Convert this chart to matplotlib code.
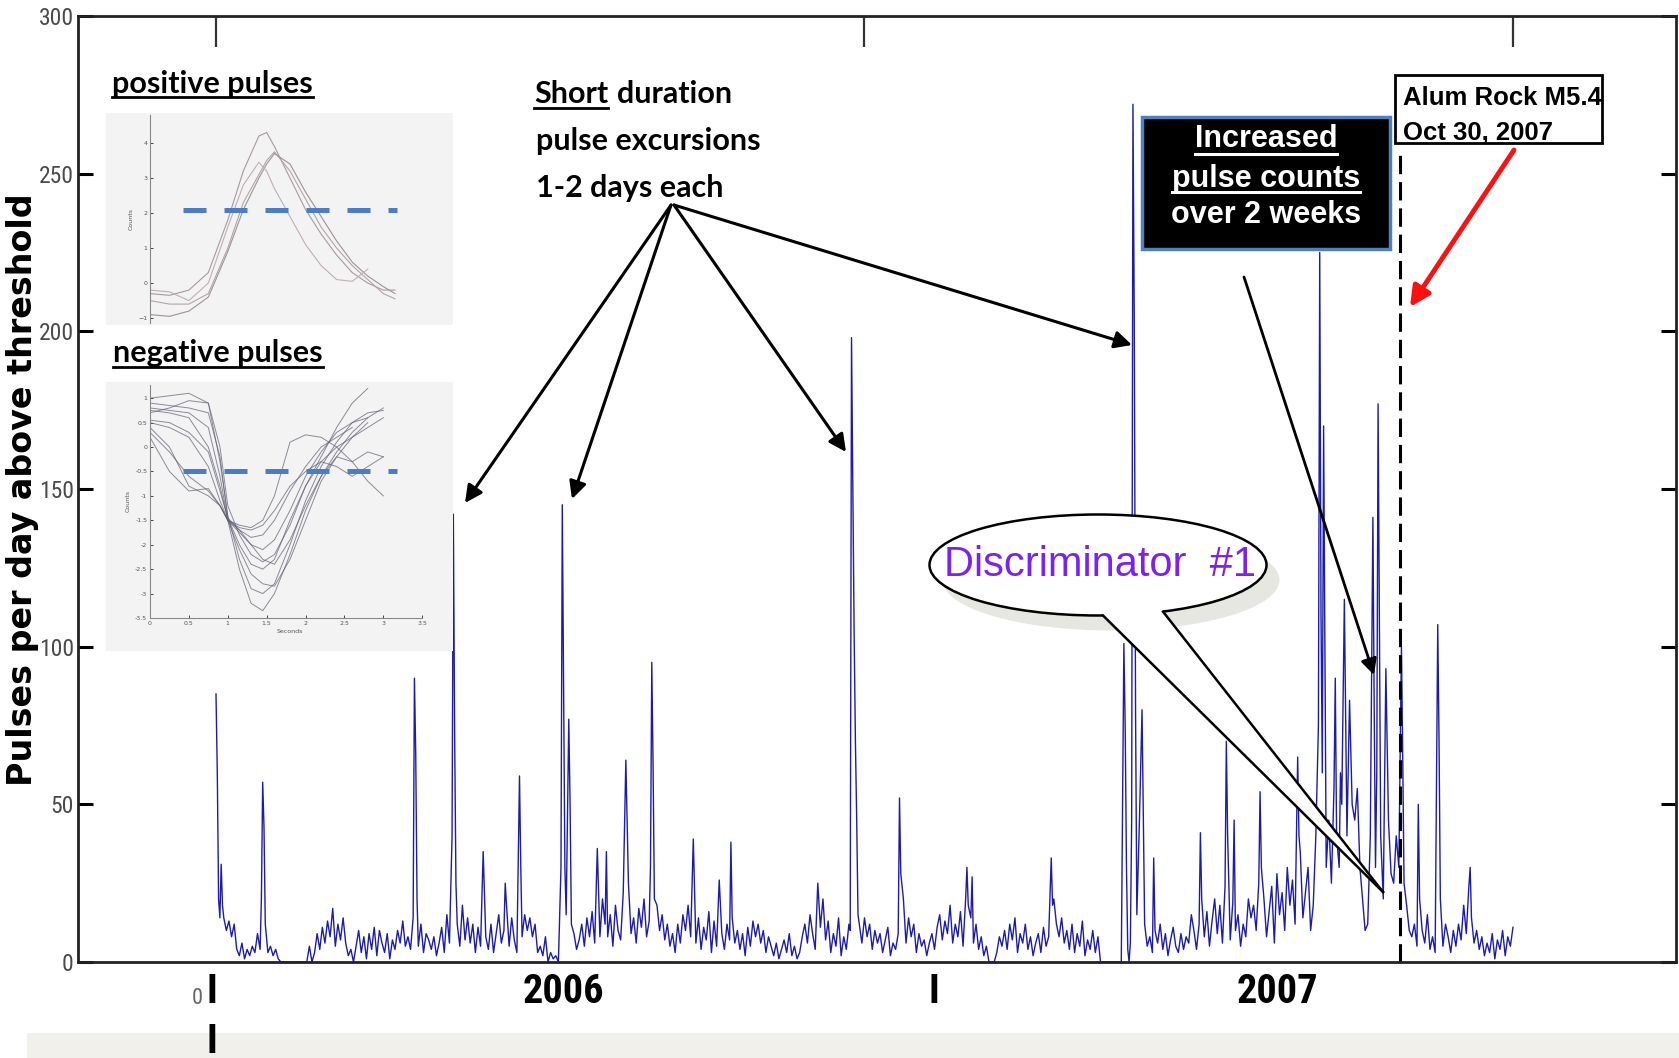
import numpy as np
import matplotlib
matplotlib.use('Agg')
import matplotlib.pyplot as plt
from matplotlib import font_manager as fm
from matplotlib.patches import Rectangle, Ellipse, Polygon, FancyArrowPatch
from matplotlib.lines import Line2D

W, H = 1679, 1058
nan = np.nan

# pulses per day, one reading every 2 days (day 0 .. day 1000)
base = [
    10, 15, 12, 14, 10, 13, 8, 12, 4, 2, 6, 1, 4, 2, 5, 3, 9, 4, 50, 12, 3, 5, 2, 4, 1,
    0, 0, 0, 0, 0, 0, 0, 0, 0, 0, 0, 5, 0, 3, 9, 4, 11, 6, 13, 8, 17, 5, 12, 7, 14,
    6, 2, 4, 0, 5, 10, 3, 8, 1, 9, 4, 11, 2, 10, 6, 3, 9, 1, 7, 4, 10, 6, 13, 5, 8,
    4, 14, 10, 5, 12, 3, 9, 7, 4, 8, 2, 6, 11, 3, 15, 6, 9, 4, 12, 5, 18, 7, 14, 6, 12,
    3, 11, 5, 2, 8, 4, 12, 3, 9, 15, 6, 10, 18, 5, 14, 7, 3, 12, 8, 15, 10, 14, 8, 12, 3,
    5, 2, 8, 0, 3, 1, 2, 0, 4, 30, 4, 28, 6, 9, 4, 7, 12, 5, 14, 8, 16, 6, 10, 8, 20,
    12, 8, 15, 5, 18, 10, 7, 22, 12, 25, 9, 14, 6, 17, 11, 20, 8, 13, 26, 40, 18, 10, 15, 7, 12,
    5, 9, 3, 12, 6, 15, 10, 18, 8, 22, 6, 14, 4, 11, 7, 16, 3, 13, 5, 20, 9, 4, 12, 7, 14,
    6, 10, 4, 9, 2, 11, 5, 13, 8, 12, 6, 10, 3, 8, 5, 2, 6, 1, 4, 7, 3, 9, 2, 5, 1,
    3, 8, 12, 6, 15, 9, 4, 18, 11, 20, 7, 13, 3, 9, 5, 14, 2, 8, 4, 12, 3, 15, 6, 12, 6,
    14, 8, 12, 4, 10, 6, 9, 3, 7, 11, 2, 6, 4, 9, 3, 20, 6, 14, 8, 12, 3, 9, 5, 7, 2,
    6, 9, 4, 11, 15, 7, 13, 9, 18, 6, 12, 8, 16, 5, 20, 10, 14, 6, 12, 4, 8, 2, 5, 0, 0,
    0, 3, 8, 5, 10, 4, 12, 7, 14, 3, 9, 6, 12, 4, 8, 2, 6, 9, 3, 11, 5, 8, 15, 20, 12,
    8, 14, 6, 10, 4, 12, 3, 9, 5, 13, 2, 7, 4, 10, 3, 8, 0, 0, 0, 0, 0, 0, 0, 0, 0,
    40, 30, 8, 0, 3, 15, 45, 80, 12, 5, 8, 3, 10, 6, 12, 4, 9, 2, 7, 11, 5, 3, 9, 4, 8,
    6, 15, 10, 4, 12, 22, 8, 16, 5, 13, 20, 9, 18, 6, 24, 12, 7, 19, 10, 15, 5, 12, 8, 20, 14,
    18, 10, 25, 12, 20, 8, 16, 24, 6, 28, 15, 22, 10, 30, 18, 26, 12, 8, 35, 14, 22, 30, 10, 18, 40,
    75, 110, 170, 30, 45, 25, 55, 40, 30, 50, 115, 40, 83, 50, 45, 55, 30, 20, 10, 12, 40, 141, 30, 177, 40,
    20, 93, 45, 28, 25, 40, 30, 100, 25, 18, 10, 8, 12, 5, 20, 10, 6, 15, 4, 8, 3, 107, 20, 5, 12,
    8, 3, 10, 5, 12, 7, 18, 9, 24, 14, 6, 10, 4, 8, 2, 6, 3, 9, 1, 7, 4, 10, 2, 8, 5,
    11,
]

# short excursions read day by day (day: pulses)
spikes = {
    0: 85, 1: 60, 2: 20, 3: 14, 4: 31, 5: 18,
    35: 20, 36: 57, 37: 43,
    153: 90, 154: 66, 155: 20,
    182: 40, 183: 142, 184: 72, 185: 25,
    206: 35, 223: 25, 234: 59, 235: 30,
    266: 30, 267: 145, 268: 86, 269: 30, 270: 15, 271: 45, 272: 77, 273: 50, 274: 12,
    294: 36, 301: 35, 316: 64, 317: 45, 335: 30, 336: 95, 337: 62, 338: 20,
    368: 39, 369: 22, 388: 26, 397: 38, 464: 25,
    489: 10, 490: 198, 491: 150, 492: 105, 493: 70, 494: 45, 495: 15,
    527: 52, 528: 28, 579: 30, 580: 18, 583: 27, 644: 33, 645: 18,
    700: 101, 701: 75, 702: 30, 703: 4, 704: 0, 705: 6, 706: 45, 707: 272, 708: 204, 709: 80, 710: 15,
    723: 33, 759: 41, 760: 20, 779: 70, 780: 40, 785: 45, 805: 54, 806: 30, 834: 65, 835: 40,
    851: 225, 853: 60, 863: 90, 867: 60, 893: 80, 895: 60, 897: 110,
    915: 65, 927: 50, 943: 70, 967: 30,
}

quake_day = 913
top_ticks = [0, 500, 1000]
y_ticks = [0, 50, 100, 150, 200, 250, 300]

# inset waveforms (seconds, counts)
pos_t = [0, 0.25, 0.5, 0.75, 1.0, 1.2, 1.4, 1.5, 1.6, 1.8, 2.0, 2.2, 2.4, 2.6, 2.8, 3.0, 3.15]
pos_curves = [
    [-0.3, -0.35, -0.2, 0.3, 1.8, 3.2, 4.2, 4.3, 3.9, 3.0, 2.1, 1.4, 0.8, 0.3, 0.0, -0.2, -0.2],
    [-0.5, -0.6, -0.6, -0.3, 1.0, 2.3, 3.1, 3.5, 3.75, 3.2, 2.4, 1.6, 1.0, 0.5, 0.1, -0.3, -0.45],
    [-0.9, -0.95, -0.8, -0.4, 0.9, 2.1, 3.0, 3.4, 3.7, 3.4, 2.6, 1.9, 1.2, 0.6, 0.2, -0.1, -0.3],
    [-0.2, -0.25, -0.5, 0.0, 1.6, 2.8, 3.45, 3.2, 2.7, 1.9, 1.1, 0.5, 0.1, 0.05, 0.4, nan, nan],
]
neg_t = [0, 0.25, 0.5, 0.75, 0.9, 1.0, 1.15, 1.3, 1.45, 1.6, 1.8, 2.0, 2.2, 2.4, 2.6, 2.8, 3.0]
neg_curves = [
    [0.8, 0.75, 0.7, 0.4, -0.6, -1.5, -2.5, -3.2, -3.35, -3.0, -2.2, -1.3, -0.6, -0.1, 0.3, 0.6, 0.8],
    [1.0, 1.05, 1.1, 0.9, -0.3, -1.4, -2.3, -2.9, -3.0, -2.8, -2.0, -1.1, -0.4, 0.1, 0.5, 0.7, 0.75],
    [0.5, 0.4, 0.2, -0.4, -1.1, -1.5, -2.1, -2.6, -2.8, -2.85, -2.3, -1.5, -0.7, -0.2, 0.2, 0.5, nan],
    [0.7, 0.8, 0.95, 0.9, 0.0, -1.2, -1.8, -2.2, -2.35, -2.2, -1.6, -0.8, -0.2, 0.4, 0.9, 1.2, nan],
    [0.3, -0.1, -0.6, -0.9, -1.2, -1.5, -1.75, -2.0, -2.1, -1.9, -1.3, -0.6, -0.1, 0.3, 0.5, 0.6, nan],
    [0.55, 0.5, 0.3, -0.1, -0.9, -1.45, -1.7, -1.85, -1.8, -1.5, -0.9, -0.4, 0.0, 0.2, 0.4, nan, nan],
    [0.4, 0.0, -0.8, -1.0, -1.2, -1.5, -1.6, -1.65, -1.5, -1.0, 0.1, 0.25, 0.2, 0.0, -0.3, -0.7, -1.0],
    [0.75, 0.7, 0.6, 0.0, -0.8, -1.5, -1.65, -1.7, -1.6, -1.3, -0.8, -0.5, -0.3, -0.4, -0.6, -0.4, -0.2],
    [0.2, -0.5, -0.9, -0.85, -1.2, -1.5, -1.7, -2.0, -2.3, -2.4, -1.9, -1.2, -0.6, -0.2, -0.3, -0.1, -0.2],
    [0.9, 0.85, 0.8, 0.7, -0.2, -1.45, -2.0, -2.4, -2.5, -2.3, -1.5, -0.8, -0.3, 0.0, 0.2, 0.4, 0.6],
]
pos_level = 2.1
neg_level = -0.5
thr_t = [0.42, 3.18]

series = dict(zip(range(0, 1001, 2), base))
series.update(spikes)
days = sorted(series)
counts = [series[d] for d in days]

CALIBRI = ['Lato', 'DejaVu Sans']
ARIAL = ['Liberation Sans', 'DejaVu Sans']


def narrow_font(bold, size):
    # pick an installed narrow/condensed face, the tick labels are squeezed in the original
    pref = ['liberation sans narrow', 'dejavu sans condensed', 'noto sans condensed',
            'roboto condensed', 'open sans condensed', 'noto sans']
    found = []
    for f in fm.fontManager.ttflist:
        n = f.name.lower()
        st = str(f.stretch).lower()
        if not ('narrow' in n or 'condensed' in n or 'condensed' in st or 'narrow' in st):
            continue
        if 'extra' in st or 'ultra' in st or f.style != 'normal':
            continue
        w = f.weight if isinstance(f.weight, int) else fm.weight_dict.get(f.weight, 400)
        if (w >= 600) != bold:
            continue
        rank = next((i for i, p in enumerate(pref) if n.startswith(p)), len(pref))
        found.append((rank, f.fname))
    if found:
        found.sort()
        return fm.FontProperties(fname=found[0][1], size=size)
    return fm.FontProperties(family='Liberation Sans', weight='bold' if bold else 'normal',
                             size=size * 0.85)


tick_fp = narrow_font(False, 17)
small0_fp = narrow_font(False, 16)
year_fp = narrow_font(True, 29)

fig = plt.figure(figsize=(W / 100, H / 100), dpi=100)


def fx(x):
    return x / W


def fy(y):
    return 1 - y / H


# main trace
ax = fig.add_axes([fx(78), fy(962), (1676 - 78) / W, (962 - 16) / H])
ax.plot(days, counts, color='#1c1caa', lw=1.0)
ax.vlines(quake_day, 0, 258, colors='k', linestyles=(0, (6, 2.6)), lw=2.2)
ax.set_xlim(-106.4, 1125.7)
ax.set_ylim(0, 300)
ax.set_xticks(top_ticks)
ax.tick_params(axis='x', bottom=False, labelbottom=False, top=True,
               direction='in', length=22, width=1.6, color='#333333')
ax.set_yticks(y_ticks)
ax.tick_params(axis='y', left=True, right=True, direction='in', length=11,
               width=2.2, labelcolor='#4a4a4a', pad=3)
for lab in ax.get_yticklabels():
    lab.set_fontproperties(tick_fp)
for sp in ax.spines.values():
    sp.set_linewidth(2)
    sp.set_color('#222222')

# inset backgrounds
for y0, y1 in [(113, 325), (382, 651)]:
    bg = fig.add_axes([fx(106), fy(y1), 347 / W, (y1 - y0) / H], zorder=2)
    bg.set_facecolor('#f3f3f3')
    bg.set_xticks([])
    bg.set_yticks([])
    for sp in bg.spines.values():
        sp.set_visible(False)

pin = fig.add_axes([fx(150), fy(323), 280 / W, 208 / H], zorder=3)
pin.patch.set_alpha(0)
for c, col in zip(pos_curves, ['#a89a9c', '#b5a4a8', '#9d9396', '#c0aeb2']):
    pin.plot(pos_t, c, color=col, lw=0.8)
pin.plot(thr_t, [pos_level, pos_level], color='#4a7dc6', lw=3.6, dashes=(4.6, 3.6))
pin.set_xlim(0, 3.6)
pin.set_ylim(-1.14, 4.8)
pin.set_xticks([])
pin.set_yticks([-1, 0, 1, 2, 3, 4])
pin.tick_params(labelsize=4.5, labelcolor='#555555', length=2, direction='in', width=0.5, pad=2)
for s in ['top', 'right', 'bottom']:
    pin.spines[s].set_visible(False)
pin.spines['left'].set_color('#888888')
pin.spines['left'].set_linewidth(0.8)
pin.set_ylabel('Counts', fontsize=4.5, color='#555555', labelpad=3)

nin = fig.add_axes([fx(150), fy(618), 280 / W, 233 / H], zorder=3)
nin.patch.set_alpha(0)
for c in neg_curves:
    nin.plot(neg_t, c, color='#5e5e72', lw=0.7, alpha=0.7)
nin.plot(thr_t, [neg_level, neg_level], color='#4a7dc6', lw=3.6, dashes=(4.6, 3.6))
nin.set_xlim(0, 3.6)
nin.set_ylim(-3.5, 1.27)
nin.set_xticks([0, 0.5, 1, 1.5, 2, 2.5, 3, 3.5])
nin.set_xticklabels(['0', '0.5', '1', '1.5', '2', '2.5', '3', '3.5'])
nin.set_yticks([-3.5, -3, -2.5, -2, -1.5, -1, -0.5, 0, 0.5, 1])
nin.set_yticklabels(['-3.5', '-3', '-2.5', '-2', '-1.5', '-1', '-0.5', '0', '0.5', '1'])
nin.tick_params(labelsize=4.5, labelcolor='#555555', length=2, direction='in', width=0.5, pad=2)
for s in ['top', 'right']:
    nin.spines[s].set_visible(False)
for s in ['left', 'bottom']:
    nin.spines[s].set_color('#888888')
    nin.spines[s].set_linewidth(0.8)
nin.spines['bottom'].set_bounds(0, 3.5)
nin.set_ylabel('Counts', fontsize=4.5, color='#555555', labelpad=3)
nin.set_xlabel('Seconds', fontsize=4.5, color='#555555', labelpad=2)

rend = fig.canvas.get_renderer()


def under(t, off, color='k', lw=2.0):
    bb = t.get_window_extent(rend)
    y = t.get_position()[1] - off / H
    fig.add_artist(Line2D([bb.x0 / W, bb.x1 / W], [y, y], transform=fig.transFigure,
                          color=color, lw=lw, zorder=8))
    return bb


def txt(x, y, s, **kw):
    kw.setdefault('va', 'baseline')
    kw.setdefault('zorder', 7)
    return fig.text(fx(x), fy(y), s, **kw)


# inset titles
t = txt(112, 93, 'positive pulses', family=CALIBRI, fontweight='bold', fontsize=22)
under(t, 4)
t = txt(113, 362, 'negative pulses', family=CALIBRI, fontweight='bold', fontsize=22)
under(t, 5)

# y label
fig.text(fx(23), fy(490), 'Pulses per day above threshold', rotation=90, fontsize=24,
         fontweight='bold', family='DejaVu Sans', ha='center', va='center')

# short duration note
t = txt(534, 103, 'Short', family=CALIBRI, fontweight='bold', fontsize=22)
bb = under(t, 5)
txt(bb.x1 + 9, 103, 'duration', family=CALIBRI, fontweight='bold', fontsize=22)
txt(536, 150, 'pulse excursions', family=CALIBRI, fontweight='bold', fontsize=22)
txt(536, 197, '1-2 days each', family=CALIBRI, fontweight='bold', fontsize=22)


def arrow(p0, p1, color='k', lw=2.2, ms=26):
    fig.add_artist(FancyArrowPatch((fx(p0[0]), fy(p0[1])), (fx(p1[0]), fy(p1[1])),
                                   transform=fig.transFigure, arrowstyle='-|>',
                                   mutation_scale=ms, color=color, lw=lw,
                                   shrinkA=0, shrinkB=0, zorder=6))


arrow((671, 205), (465, 503))
arrow((671, 205), (572, 499))
arrow((674, 205), (846, 452))
arrow((674, 205), (1132, 345))

# increased pulse counts box
fig.add_artist(Rectangle((fx(1142), fy(249)), 248 / W, 132 / H, transform=fig.transFigure,
                         fc='black', ec='#4f81bd', lw=2.5, zorder=5))
for s, yb, u in [('Increased', 147, 7), ('pulse counts', 187, 5), ('over 2 weeks', 223, 0)]:
    t = txt(1266, yb, s, family=ARIAL, fontweight='bold', fontsize=22, color='white', ha='center')
    if u:
        under(t, u, color='white', lw=2.2)
arrow((1244, 277), (1374, 675), lw=2.0, ms=24)

# Alum Rock box
fig.add_artist(Rectangle((fx(1395), fy(143)), 207 / W, 68 / H, transform=fig.transFigure,
                         fc='white', ec='black', lw=2, zorder=5))
txt(1403, 105, 'Alum Rock M5.4', family=ARIAL, fontweight='bold', fontsize=18.5)
txt(1403, 140, 'Oct 30, 2007', family=ARIAL, fontweight='bold', fontsize=18.5)
arrow((1514, 150), (1410, 307), color='#ff1010', lw=3.5, ms=30)

# Discriminator callout
fig.add_artist(Ellipse((fx(1111), fy(580)), 337 / W, 101 / H, transform=fig.transFigure,
                       fc='#e7e7e1', ec='none', zorder=4))
fig.add_artist(Ellipse((fx(1098), fy(565)), 337 / W, 101 / H, transform=fig.transFigure,
                       fc='white', ec='black', lw=1.8, zorder=5))
tail = [(1103, 600), (1103, 615.5), (1383, 892), (1163, 611.6), (1163, 598)]
fig.add_artist(Polygon([(fx(a), fy(b)) for a, b in tail], transform=fig.transFigure,
                       fc='white', ec='none', zorder=6))
for a, b in [(1103, 615.5), (1163, 611.6)]:
    fig.add_artist(Line2D([fx(a), fx(1383)], [fy(b), fy(892)], transform=fig.transFigure,
                          color='black', lw=1.8, zorder=6))
txt(1100, 565, 'Discriminator  #1', family=ARIAL, fontsize=30, color='#7b22f0',
    ha='center', va='center')

# bottom strip labels
fig.add_artist(Rectangle((fx(27), 0), 1 - fx(27), 25 / H, transform=fig.transFigure,
                         fc='#f2f0ea', ec='none', zorder=1))
txt(197, 998, '0', fontproperties=small0_fp, color='#666666', ha='center', va='center')
for x, s in [(212, 'I'), (563, '2006'), (934, 'I'), (1277, '2007')]:
    txt(x, 992, s, fontproperties=year_fp, ha='center', va='center')
txt(212, 1042, 'I', fontproperties=year_fp, ha='center', va='center')

fig.savefig('out.png', dpi=100)
